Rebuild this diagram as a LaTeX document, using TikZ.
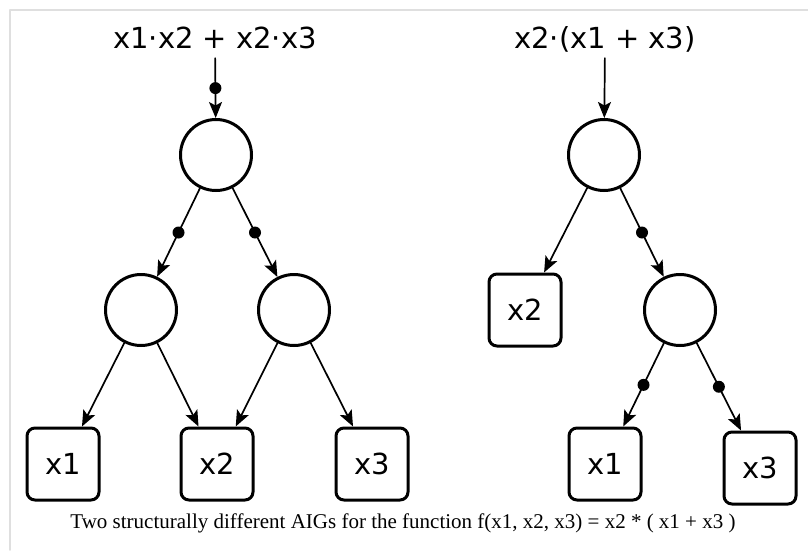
\documentclass[tikz,border=0pt]{standalone}
\usepackage{fontspec}
\setmainfont{Liberation Serif}
\newfontfamily\aigfont{DejaVu Sans}
\usetikzlibrary{arrows.meta}

\begin{document}
\begin{tikzpicture}[x=1pt, y=-1pt, line cap=round, line join=round,
    >={Stealth[length=16pt, width=13pt, inset=3.5pt]}]

  \def\gate{71pt}      % AND node diameter
  \def\leaf{72pt}      % input box side
  \def\fsize{29}       % text size of labels

  \tikzset{
    andgate/.style={circle, draw, line width=3pt, minimum size=\gate, inner sep=0pt},
    input/.style={rectangle, draw, line width=3pt, rounded corners=8pt,
      minimum size=\leaf, inner sep=0pt, font=\aigfont\fontsize{\fsize}{34}\selectfont},
    func/.style={font=\aigfont\fontsize{\fsize}{34}\selectfont, inner sep=0pt,
      text depth=10pt, anchor=base},
    edge/.style={->, line width=1.7pt},
    inv/.style={circle, fill, inner sep=0pt, minimum size=12pt},
  }

  % Page and frame
  \useasboundingbox (0,0) rectangle (808,550);
  \draw[gray!25, line width=1.5pt] (808,10) -- (10,10) -- (10,550);

  % Left AIG
  \node[func]    (fL)  at (215,48)  {x1·x2 + x2·x3};
  \node[andgate] (gL)  at (216,155) {};
  \node[andgate] (gL1) at (141,310) {};
  \node[andgate] (gL2) at (294,310) {};
  \node[input]   (aL)  at (63,464)  {x1};
  \node[input]   (bL)  at (217,464) {x2};
  \node[input]   (cL)  at (372,464) {x3};

  \draw[edge] (fL)  -- node[inv] {} (gL);
  \draw[edge] (gL)  -- node[inv] {} (gL1);
  \draw[edge] (gL)  -- node[inv] {} (gL2);
  \draw[edge] (gL1) -- (aL);
  \draw[edge] (gL1) -- (bL);
  \draw[edge] (gL2) -- (bL);
  \draw[edge] (gL2) -- (cL);

  % Right AIG
  \node[func]    (fR)  at (605,48)  {x2·(x1 + x3)};
  \node[andgate] (gR)  at (604,155) {};
  \node[input]   (bR)  at (525,310) {x2};
  \node[andgate] (gR1) at (680,310) {};
  \node[input]   (aR)  at (605,464) {x1};
  \node[input]   (cR)  at (760,468) {x3};

  \draw[edge] (fR)  -- (gR);
  \draw[edge] (gR)  -- (bR);
  \draw[edge] (gR)  -- node[inv] {} (gR1);
  \draw[edge] (gR1) -- node[inv] {} (aR);
  \draw[edge] (gR1) -- node[inv] {} (cR);

  % Caption
  \node[font=\fontsize{21}{24}\selectfont, anchor=base, inner sep=0pt] (cap) at (403,528)
    {Two structurally different AIGs for the function f(x1, x2, x3) = x2 * ( x1 + x3 )};

\end{tikzpicture}
\end{document}
